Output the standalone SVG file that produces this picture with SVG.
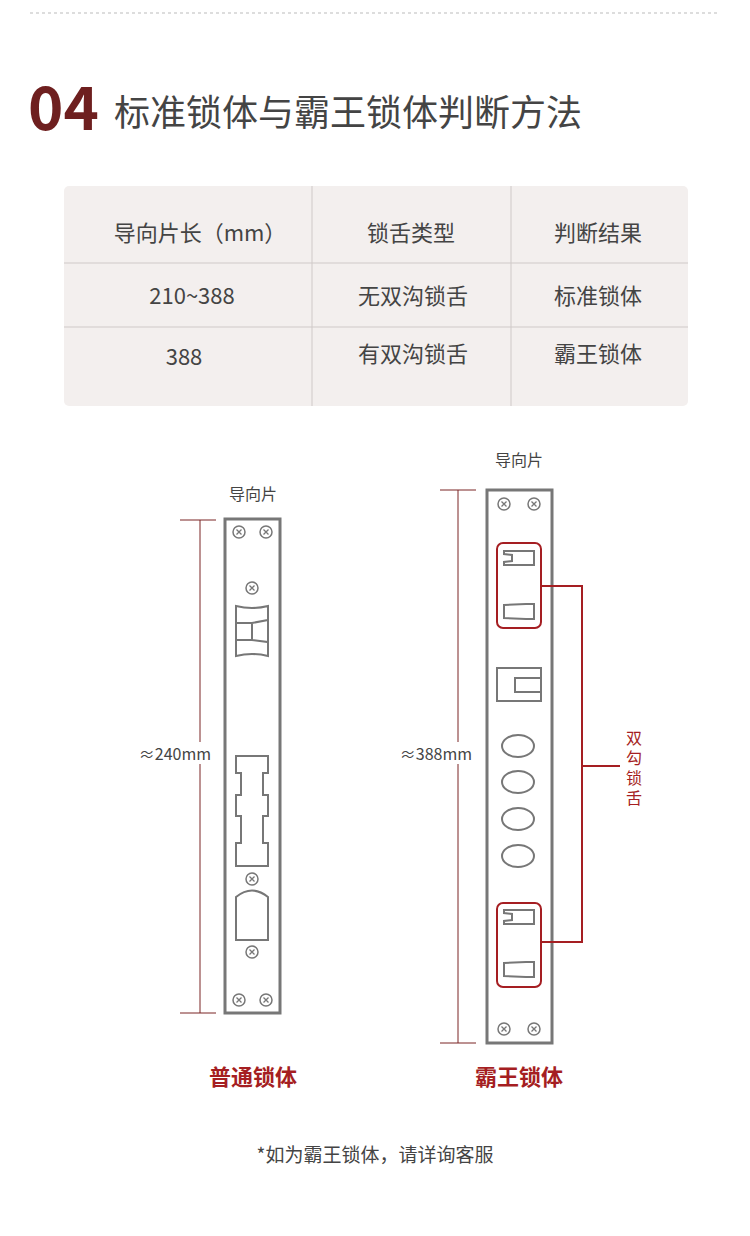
<svg xmlns="http://www.w3.org/2000/svg" width="750" height="1236" viewBox="0 0 750 1236">
<style>
text{font-family:"Noto Sans CJK SC","Liberation Sans",sans-serif}
.t{font-size:22px;fill:#444;text-anchor:middle}
.s{font-size:16px;fill:#444;text-anchor:middle}
.ln{fill:none;stroke:#777;stroke-width:2}
.pl{fill:#fff;stroke:#777;stroke-width:3}
.rd{fill:none;stroke:#a51e22;stroke-width:2}
.dm{stroke:#7a2424;stroke-width:1}
</style>
<defs>
<g id="scr"><circle r="6" fill="#fff" stroke="#777" stroke-width="1.5"/><path d="M-2.5-2.5L2.5 2.5M2.5-2.5L-2.5 2.5" stroke="#777" stroke-width="1.3"/></g>
<path id="tg" d="M0 0H30V14H0V11L8 10V4L0 3Z" class="ln"/>
<path id="tg2" d="M0 1L22 0L30 0V15H22L0 14Z" class="ln"/>
</defs>
<line x1="30" y1="13" x2="720" y2="13" stroke="#bbb" stroke-dasharray="3,3"/>
<g id="title">
<text x="28" y="130" font-size="60" font-weight="bold" fill="#6e1f1f" font-family="Liberation Sans,sans-serif">04</text>
<text x="114" y="126" font-size="36" fill="#444">标准锁体与霸王锁体判断方法</text>
</g>
<g id="table">
<rect x="64" y="186" width="624" height="220" rx="5" fill="#f3efee"/>
<path d="M64 263H688M64 327H688M312 186V406M511 186V406" stroke="#cfc9c8" stroke-width="1"/>
<text class="t" x="200" y="241">导向片长（mm）</text>
<text class="t" x="411" y="241">锁舌类型</text>
<text class="t" x="598" y="241">判断结果</text>
<text class="t" x="192" y="304">210~388</text>
<text class="t" x="413" y="304">无双沟锁舌</text>
<text class="t" x="598" y="304">标准锁体</text>
<text class="t" x="184" y="365">388</text>
<text class="t" x="413" y="362">有双沟锁舌</text>
<text class="t" x="598" y="362">霸王锁体</text>
</g>
<g id="normal">
<text class="s" x="253" y="500">导向片</text>
<rect class="pl" x="225" y="519" width="55" height="494"/>
<use href="#scr" x="239" y="532"/><use href="#scr" x="266" y="532"/>
<use href="#scr" x="252" y="588"/><use href="#scr" x="252" y="879"/>
<use href="#scr" x="252" y="952"/><use href="#scr" x="239" y="1000"/><use href="#scr" x="266" y="1000"/>
<path class="ln" d="M236 606Q252 610 268 606V656Q252 652 236 656Z M236 623H252V640H236 M252 623L268 620V642L252 640"/>
<path class="ln" d="M236 756H268V773H263V795H268V816H263V843H268V866H236V843H241V816H236V795H241V773H236Z"/>
<path class="ln" d="M236 897Q252 884 268 897V940H236Z"/>
<line class="dm" x1="200" y1="520" x2="200" y2="1013"/>
<line class="dm" x1="180" y1="520" x2="216" y2="520"/><line class="dm" x1="180" y1="1013" x2="216" y2="1013"/>
<rect x="134" y="742" width="82" height="22" fill="#fff"/>
<text class="s" x="175" y="760">≈240mm</text>
<text x="253" y="1085" font-size="22" font-weight="bold" fill="#a51e22" text-anchor="middle">普通锁体</text>
</g>
<g id="bawang">
<text class="s" x="519" y="466">导向片</text>
<rect class="pl" x="487" y="490" width="65" height="553"/>
<use href="#scr" x="504" y="504"/><use href="#scr" x="534" y="504"/>
<use href="#scr" x="504" y="1029"/><use href="#scr" x="534" y="1029"/>
<rect class="rd" x="497" y="543" width="44" height="85" rx="6"/>
<rect class="rd" x="497" y="903" width="44" height="84" rx="6"/>
<use href="#tg" x="504" y="551"/><use href="#tg2" x="504" y="604"/>
<use href="#tg" x="504" y="910"/><use href="#tg2" x="504" y="962"/>
<path class="ln" d="M497 668H541V701H497Z M541 678H515V692H541"/>
<ellipse class="ln" cx="518" cy="746" rx="16" ry="11"/><ellipse class="ln" cx="518" cy="782" rx="16" ry="11"/>
<ellipse class="ln" cx="518" cy="819" rx="16" ry="11"/><ellipse class="ln" cx="518" cy="856" rx="16" ry="11"/>
<line class="dm" x1="458" y1="490" x2="458" y2="1043"/>
<line class="dm" x1="440" y1="490" x2="476" y2="490"/><line class="dm" x1="440" y1="1043" x2="476" y2="1043"/>
<rect x="396" y="742" width="82" height="22" fill="#fff"/>
<text class="s" x="436" y="760">≈388mm</text>
<text x="519" y="1085" font-size="22" font-weight="bold" fill="#a51e22" text-anchor="middle">霸王锁体</text>
</g>
<g id="connectors">
<path class="rd" d="M541 586H582V942H541 M582 766H620"/>
</g>
<g id="label">
<text font-size="16" fill="#a51e22" text-anchor="middle"><tspan x="634" y="744">双</tspan><tspan x="634" y="764">勾</tspan><tspan x="634" y="784">锁</tspan><tspan x="634" y="804">舌</tspan></text>
</g>
<text x="375" y="1162" style="font-size:19px;fill:#444;text-anchor:middle">*如为霸王锁体，请详询客服</text>
</svg>
